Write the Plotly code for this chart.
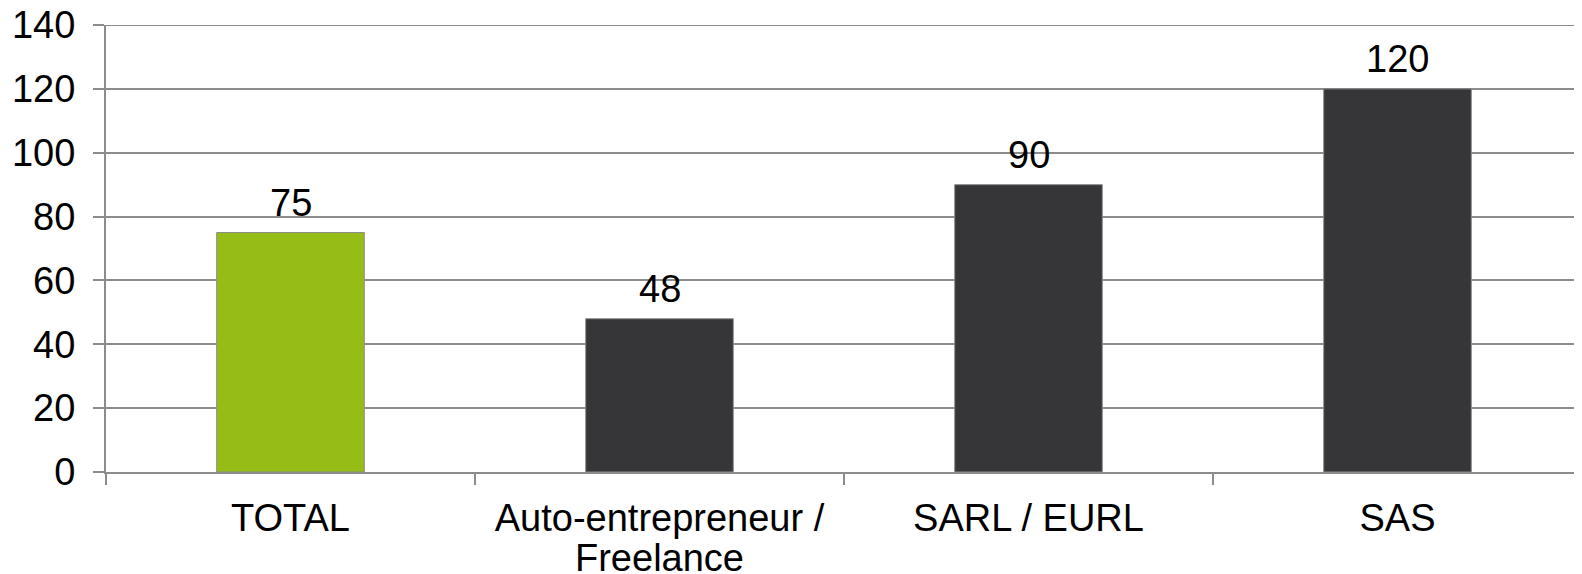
import plotly.graph_objects as go

categories = ["TOTAL", "Auto-entrepreneur /<br>Freelance", "SARL / EURL", "SAS"]
values = [75, 48, 90, 120]
bar_colors = ["#96bd16", "#363638", "#363638", "#363638"]
y_ticks = [0, 20, 40, 60, 80, 100, 120, 140]

FONT = "Liberation Sans, Arial, sans-serif"
GRID = "#8c8c8c"
FS = 38

fig = go.Figure()
fig.add_trace(go.Bar(
    x=categories, y=values,
    marker=dict(color=bar_colors, line=dict(color="#8c8c8c", width=1)),
    width=0.4,
    hoverinfo="skip",
))
for c, v in zip(categories, values):
    fig.add_annotation(x=c, y=v, text=str(v), showarrow=False, yanchor="bottom",
                       yshift=7, font=dict(family=FONT, size=FS, color="#000000"))

# first line of each category as tick text, following lines as tighter-spaced annotations
first_lines = [c.split("<br>")[0] for c in categories]
for c in categories:
    rest = c.split("<br>")[1:]
    for i, line in enumerate(rest):
        fig.add_annotation(x=c, y=0, yref="paper", text=line, showarrow=False,
                           yanchor="middle", yshift=-86 - 40 * i,
                           font=dict(family=FONT, size=FS, color="#000000"))

# top gridline (plotly omits the gridline sitting on the plot edge)
fig.add_shape(type="line", xref="paper", x0=0, x1=1, yref="y", y0=y_ticks[-1], y1=y_ticks[-1],
              line=dict(color=GRID, width=2), layer="below")

# page body has a default 8px margin, so the figure is sized to fit the window
fig.update_layout(
    width=1574, height=566,
    margin=dict(l=98, r=0, t=17, b=102, autoexpand=False),
    paper_bgcolor="white", plot_bgcolor="white",
    showlegend=False,
    font=dict(family=FONT, size=FS, color="#000000"),
)
fig.update_yaxes(
    range=[0, 140], tickvals=y_ticks, showgrid=True, gridcolor=GRID, gridwidth=2,
    showline=True, linecolor=GRID, linewidth=2, ticks="outside", ticklen=11,
    tickcolor=GRID, tickwidth=2, zeroline=False, automargin=False,
    ticklabeloverflow="allow", ticklabelstandoff=10,
    tickfont=dict(family=FONT, size=FS, color="#000000"),
)
fig.update_xaxes(
    tickvals=categories, ticktext=first_lines,
    showline=True, linecolor=GRID, linewidth=2, ticks="outside", ticklen=11,
    tickcolor=GRID, tickwidth=2, tickson="boundaries", automargin=False,
    ticklabeloverflow="allow", ticklabelstandoff=11,
    tickfont=dict(family=FONT, size=FS, color="#000000"),
)
fig.write_html("out.html")
